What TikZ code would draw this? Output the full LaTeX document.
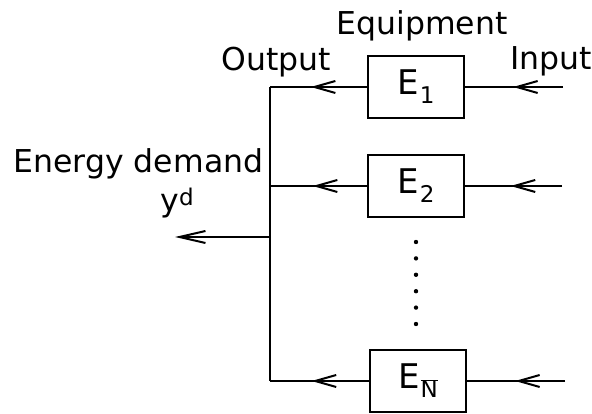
\documentclass[tikz,border=0pt]{standalone}
\usepackage{fontspec}
\setmainfont{DejaVu Sans}
\usepackage{tikz}
\usetikzlibrary{arrows.meta, decorations.markings, calc}

\newcommand\unitsub[1]{E\kern1pt\raisebox{-9pt}{\fontsize{23}{24}\selectfont #1}}

\begin{document}
\begin{tikzpicture}[
  x=1pt, y=-1pt,
  line width=2pt,
  font=\fontsize{31.5}{36}\selectfont,
  equip/.style={
    draw, line width=2pt, minimum width=96pt, minimum height=62pt, inner sep=0pt,
    font=\fontsize{34}{38}\selectfont
  },
  lbl/.style={anchor=base, inner sep=0pt},
  barb/.tip={Straight Barb[length=21pt, width=12pt]},
  flow/.style={
    line width=2pt,
    postaction={decorate},
    decoration={markings, mark=at position #1 with {\arrow{barb}}}
  },
  flow/.default=0.55
]
\useasboundingbox (0,0) rectangle (592,414);

% ---- the equipment units, stacked
\node[equip] (e1) at (416,87)  {\unitsub{1}};
\node[equip] (e2) at (416,186) {\unitsub{2}};
\node[equip] (en) at (418,381) {\unitsub{$\overline{\mbox{N}}$}};

% ---- collecting line and free ends
\coordinate (bus)    at (270,237);
\coordinate (demand) at (175,237);
\coordinate (in1) at (563,87);
\coordinate (in2) at (562,186);
\coordinate (inn) at (565,381);

% ---- outputs into the collecting line
\draw[flow=0.58] (e1.west) -- (e1.west -| bus);
\draw[flow=0.56] (e2.west) -- (e2.west -| bus);
\draw[flow=0.58] (en.west) -- (en.west -| bus);
\draw (e1.west -| bus) -- (en.west -| bus);
\draw[-{Straight Barb[length=26pt, width=12pt]}] (bus) -- (demand);

% ---- inputs
\draw[flow=0.51] (in1) -- (e1.east);
\draw[flow=0.53] (in2) -- (e2.east);
\draw[flow=0.51] (inn) -- (en.east);

% ---- dots between E2 and EN
\foreach \i in {0,...,5}
  \fill (416,242+16.4*\i) circle (2.2pt);

% ---- labels
\node[lbl] (eqp) at (422,35)  {Equipment};
\node[lbl] (out) at (276,71)  {Output};
\node[lbl] (inp) at (551,70)  {Input};
\node[lbl] (dem) at (138.5,173) {Energy demand};
\node[lbl] (yd)  at (177,212) {y\raisebox{6pt}{\fontsize{23}{24}\selectfont d}};
\end{tikzpicture}
\end{document}
